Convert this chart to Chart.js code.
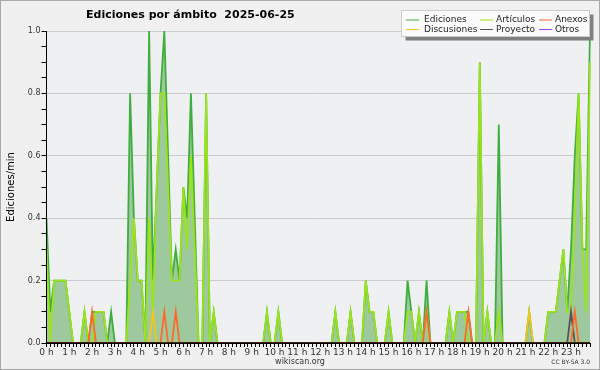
<!DOCTYPE html>
<html>
<head>
<meta charset="utf-8">
<script src="https://cdn.jsdelivr.net/npm/chart.js@4.4.1/dist/chart.umd.min.js"></script>
<style>
html, body { margin: 0; padding: 0; background: #f0f0f0; }
</style>
</head>
<body>
<canvas id="myChart-ambito" width="600" height="370"></canvas>
<script>
// Ediciones por minuto, un valor cada 10 minutos (144 puntos, 0 h .. 23 h 50)
const ediciones = [
    0.4, 0.1, 0.2, 0.2, 0.2, 0.2, 0.1, 0, 0, 0, 0.1, 0,
    0.1, 0.1, 0.1, 0.1, 0, 0.1, 0, 0, 0, 0, 0.8, 0.4,
    0.2, 0.2, 0, 1.0, 0.2, 0.5, 0.8, 1.0, 0.6, 0.2, 0.3, 0.2,
    0.5, 0.4, 0.8, 0.4, 0, 0, 0.8, 0, 0.1, 0, 0, 0,
    0, 0, 0, 0, 0, 0, 0, 0, 0, 0, 0.1, 0,
    0, 0.1, 0, 0, 0, 0, 0, 0, 0, 0, 0, 0,
    0, 0, 0, 0, 0.1, 0, 0, 0, 0.1, 0, 0, 0,
    0.2, 0.1, 0.1, 0, 0, 0, 0.1, 0, 0, 0, 0, 0.2,
    0.1, 0, 0.1, 0, 0.2, 0, 0, 0, 0, 0, 0.1, 0,
    0.1, 0.1, 0.1, 0.1, 0, 0, 0.9, 0, 0.1, 0, 0, 0.7,
    0, 0, 0, 0, 0, 0, 0, 0.1, 0, 0, 0, 0,
    0.1, 0.1, 0.1, 0.2, 0.3, 0.1, 0.3, 0.6, 0.8, 0.3, 0.3, 1.0
];
const articulos = [
    0.3, 0, 0.2, 0.2, 0.2, 0.2, 0.1, 0, 0, 0, 0.1, 0,
    0, 0.1, 0.1, 0.1, 0, 0, 0, 0, 0, 0, 0.2, 0.4,
    0.2, 0.2, 0, 0.4, 0.1, 0.5, 0.8, 0.8, 0.5, 0.2, 0.2, 0.2,
    0.5, 0.3, 0.6, 0.3, 0, 0, 0.8, 0, 0.1, 0, 0, 0,
    0, 0, 0, 0, 0, 0, 0, 0, 0, 0, 0.1, 0,
    0, 0.1, 0, 0, 0, 0, 0, 0, 0, 0, 0, 0,
    0, 0, 0, 0, 0.1, 0, 0, 0, 0.1, 0, 0, 0,
    0.2, 0.1, 0.1, 0, 0, 0, 0.1, 0, 0, 0, 0, 0.1,
    0.1, 0, 0.1, 0, 0.1, 0, 0, 0, 0, 0, 0.1, 0,
    0.1, 0.1, 0.1, 0, 0, 0, 0.9, 0, 0.1, 0, 0, 0.1,
    0, 0, 0, 0, 0, 0, 0, 0, 0, 0, 0, 0,
    0.1, 0.1, 0.1, 0.2, 0.3, 0.1, 0.1, 0.4, 0.8, 0.3, 0.1, 0.9
];
const anexos = [
    0, 0, 0, 0, 0, 0, 0, 0, 0, 0, 0, 0,
    0.1, 0, 0, 0, 0, 0, 0, 0, 0, 0, 0, 0,
    0, 0, 0, 0, 0, 0, 0, 0.1, 0, 0, 0.1, 0,
    0, 0, 0, 0, 0, 0, 0, 0, 0, 0, 0, 0,
    0, 0, 0, 0, 0, 0, 0, 0, 0, 0, 0, 0,
    0, 0, 0, 0, 0, 0, 0, 0, 0, 0, 0, 0,
    0, 0, 0, 0, 0, 0, 0, 0, 0, 0, 0, 0,
    0, 0, 0, 0, 0, 0, 0, 0, 0, 0, 0, 0,
    0, 0, 0, 0, 0.1, 0, 0, 0, 0, 0, 0, 0,
    0, 0, 0, 0.1, 0, 0, 0, 0, 0, 0, 0, 0,
    0, 0, 0, 0, 0, 0, 0, 0, 0, 0, 0, 0,
    0, 0, 0, 0, 0, 0, 0, 0.1, 0, 0, 0, 0
];
const discusiones = [
    0, 0, 0, 0, 0, 0, 0, 0, 0, 0, 0, 0,
    0, 0, 0, 0, 0, 0, 0, 0, 0, 0, 0, 0,
    0, 0, 0, 0, 0.1, 0, 0, 0, 0, 0, 0, 0,
    0, 0, 0, 0, 0, 0, 0, 0, 0, 0, 0, 0,
    0, 0, 0, 0, 0, 0, 0, 0, 0, 0, 0, 0,
    0, 0, 0, 0, 0, 0, 0, 0, 0, 0, 0, 0,
    0, 0, 0, 0, 0, 0, 0, 0, 0, 0, 0, 0,
    0, 0, 0, 0, 0, 0, 0, 0, 0, 0, 0, 0,
    0, 0, 0, 0, 0, 0, 0, 0, 0, 0, 0, 0,
    0, 0, 0, 0, 0, 0, 0, 0, 0, 0, 0, 0,
    0, 0, 0, 0, 0, 0, 0, 0.1, 0, 0, 0, 0,
    0, 0, 0, 0, 0, 0, 0, 0, 0, 0, 0, 0
];
const proyecto = [
    0, 0, 0, 0, 0, 0, 0, 0, 0, 0, 0, 0,
    0, 0, 0, 0, 0, 0, 0, 0, 0, 0, 0, 0,
    0, 0, 0, 0, 0, 0, 0, 0, 0, 0, 0, 0,
    0, 0, 0, 0, 0, 0, 0, 0, 0, 0, 0, 0,
    0, 0, 0, 0, 0, 0, 0, 0, 0, 0, 0, 0,
    0, 0, 0, 0, 0, 0, 0, 0, 0, 0, 0, 0,
    0, 0, 0, 0, 0, 0, 0, 0, 0, 0, 0, 0,
    0, 0, 0, 0, 0, 0, 0, 0, 0, 0, 0, 0,
    0, 0, 0, 0, 0, 0, 0, 0, 0, 0, 0, 0,
    0, 0, 0, 0, 0, 0, 0, 0, 0, 0, 0, 0,
    0, 0, 0, 0, 0, 0, 0, 0, 0, 0, 0, 0,
    0, 0, 0, 0, 0, 0, 0.1, 0, 0, 0, 0, 0
];
const otros = [
    0, 0, 0, 0, 0, 0, 0, 0, 0, 0, 0, 0,
    0, 0, 0, 0, 0, 0, 0, 0, 0, 0, 0, 0,
    0, 0, 0, 0, 0, 0, 0, 0, 0, 0, 0, 0,
    0, 0, 0, 0, 0, 0, 0, 0, 0, 0, 0, 0,
    0, 0, 0, 0, 0, 0, 0, 0, 0, 0, 0, 0,
    0, 0, 0, 0, 0, 0, 0, 0, 0, 0, 0, 0,
    0, 0, 0, 0, 0, 0, 0, 0, 0, 0, 0, 0,
    0, 0, 0, 0, 0, 0, 0, 0, 0, 0, 0, 0,
    0, 0, 0, 0, 0, 0, 0, 0, 0, 0, 0, 0,
    0, 0, 0, 0, 0, 0, 0, 0, 0, 0, 0, 0,
    0, 0, 0, 0, 0, 0, 0, 0, 0, 0, 0, 0,
    0, 0, 0, 0, 0, 0, 0, 0, 0, 0, 0, 0
];

// etiquetas del eje x: una marca cada 10 min, texto cada hora
const horas = [];
for (let i = 0; i < 144; i++) {
    horas.push(i % 6 === 0 ? (i / 6) + ' h' : '');
}

const titulo = 'Ediciones por ámbito  2025-06-25';
const FONT = 'DejaVu Sans';

function esMayor(v) {
    return Math.abs(v * 5 - Math.round(v * 5)) < 1e-6;
}

function serie(label, data, color, order, extra) {
    return Object.assign({
        label: label,
        data: data,
        borderColor: color,
        backgroundColor: color,
        borderWidth: 1.8,
        pointRadius: 0,
        tension: 0,
        fill: false,
        order: order
    }, extra || {});
}

// fondo, ejes, titulo, leyenda y pie
const decorado = {
    id: 'decorado',
    beforeDraw(chart) {
        const c = chart.ctx, a = chart.chartArea;
        c.save();
        c.fillStyle = '#f0f0f0';
        c.fillRect(0, 0, chart.width, chart.height);
        c.strokeStyle = '#a8a8a8';
        c.lineWidth = 1;
        c.strokeRect(0.5, 0.5, chart.width - 1, chart.height - 1);
        c.fillStyle = '#eef0f2';
        c.fillRect(a.left, a.top, a.right - a.left, a.bottom - a.top);
        c.restore();
    },
    afterDatasetsDraw(chart) {
        const c = chart.ctx, a = chart.chartArea;
        c.save();
        c.strokeStyle = '#000';
        c.lineWidth = 1.5;
        c.beginPath();
        c.moveTo(a.left - 0.5, a.bottom);
        c.lineTo(a.right, a.bottom);
        c.stroke();
        c.lineWidth = 1;
        c.beginPath();
        c.moveTo(a.left, a.top);
        c.lineTo(a.left, a.bottom);
        c.stroke();

        // titulo
        c.fillStyle = '#000';
        c.font = 'bold 11px "' + FONT + '"';
        c.textBaseline = 'alphabetic';
        c.textAlign = 'left';
        c.fillText(titulo, 86, 18);

        // leyenda
        const bx = 401.5, by = 10.5, bw = 188, bh = 26;
        c.fillStyle = '#808080';
        c.fillRect(bx + 4, by + 4, bw, bh);
        c.fillStyle = '#fafafa';
        c.fillRect(bx, by, bw, bh);
        c.strokeStyle = '#cccccc';
        c.strokeRect(bx, by, bw, bh);
        const cols = [[406, 424], [480, 496], [539, 555]];
        const filas = [20, 29.5];
        c.font = '9px "' + FONT + '"';
        c.textBaseline = 'middle';
        chart.data.datasets.forEach(function (ds, n) {
            const col = cols[n % 3], y = filas[Math.floor(n / 3)];
            c.strokeStyle = ds.borderColor;
            c.lineWidth = 1;
            c.beginPath();
            c.moveTo(col[0], y);
            c.lineTo(col[0] + 13, y);
            c.stroke();
            c.fillStyle = '#222';
            c.fillText(ds.label, col[1], y);
        });

        // pie
        c.textBaseline = 'alphabetic';
        c.fillStyle = '#333';
        c.font = '8px "' + FONT + '"';
        c.textAlign = 'center';
        c.fillText('wikiscan.org', 300, 364);
        c.font = '6px "' + FONT + '"';
        c.textAlign = 'right';
        c.fillText('CC BY-SA 3.0', 590, 364);
        c.restore();
    }
};

const ctx1 = document.getElementById('myChart-ambito').getContext('2d');
const myChart1 = new Chart(ctx1, {
    type: 'line',
    data: {
        labels: horas,
        datasets: [
            serie('Ediciones', ediciones, '#3fae3f', 6, { fill: 'origin', backgroundColor: '#9ec99e' }),
            serie('Artículos', articulos, '#9be31a', 5),
            serie('Anexos', anexos, '#ff6a2a', 1),
            serie('Discusiones', discusiones, '#f5c518', 2),
            serie('Proyecto', proyecto, '#555555', 3),
            serie('Otros', otros, '#9944ff', 4)
        ]
    },
    options: {
        responsive: false,
        animation: false,
        devicePixelRatio: 1,
        layout: { padding: { top: 31, right: 10, left: 0, bottom: 0 } },
        plugins: {
            legend: { display: false },
            title: { display: false },
            tooltip: { enabled: false }
        },
        scales: {
            x: {
                type: 'category',
                offset: false,
                afterFit: function (s) { s.height = 27; },
                border: { display: true, color: '#000' },
                grid: { drawOnChartArea: false, drawTicks: true, tickLength: 4, tickColor: '#000' },
                ticks: {
                    autoSkip: false,
                    maxRotation: 0,
                    padding: 0,
                    color: '#333',
                    font: { family: FONT, size: 9 }
                }
            },
            y: {
                min: 0,
                max: 1,
                afterFit: function (s) { s.width = 46.5; },
                border: { display: true, color: '#000' },
                grid: {
                    color: function (c) { return esMayor(c.tick.value) ? '#cccccc' : 'rgba(0,0,0,0)'; },
                    tickColor: '#000',
                    tickLength: 5
                },
                ticks: {
                    stepSize: 0.05,
                    autoSkip: false,
                    padding: 1,
                    color: '#333',
                    font: { family: FONT, size: 8 },
                    callback: function (v) { return esMayor(v) ? v.toFixed(1) : ''; }
                },
                title: {
                    display: true,
                    text: 'Ediciones/min',
                    color: '#000',
                    padding: { top: 5, bottom: 0 },
                    font: { family: FONT, size: 10 }
                }
            }
        }
    },
    plugins: [decorado]
});
</script>
</body>
</html>
